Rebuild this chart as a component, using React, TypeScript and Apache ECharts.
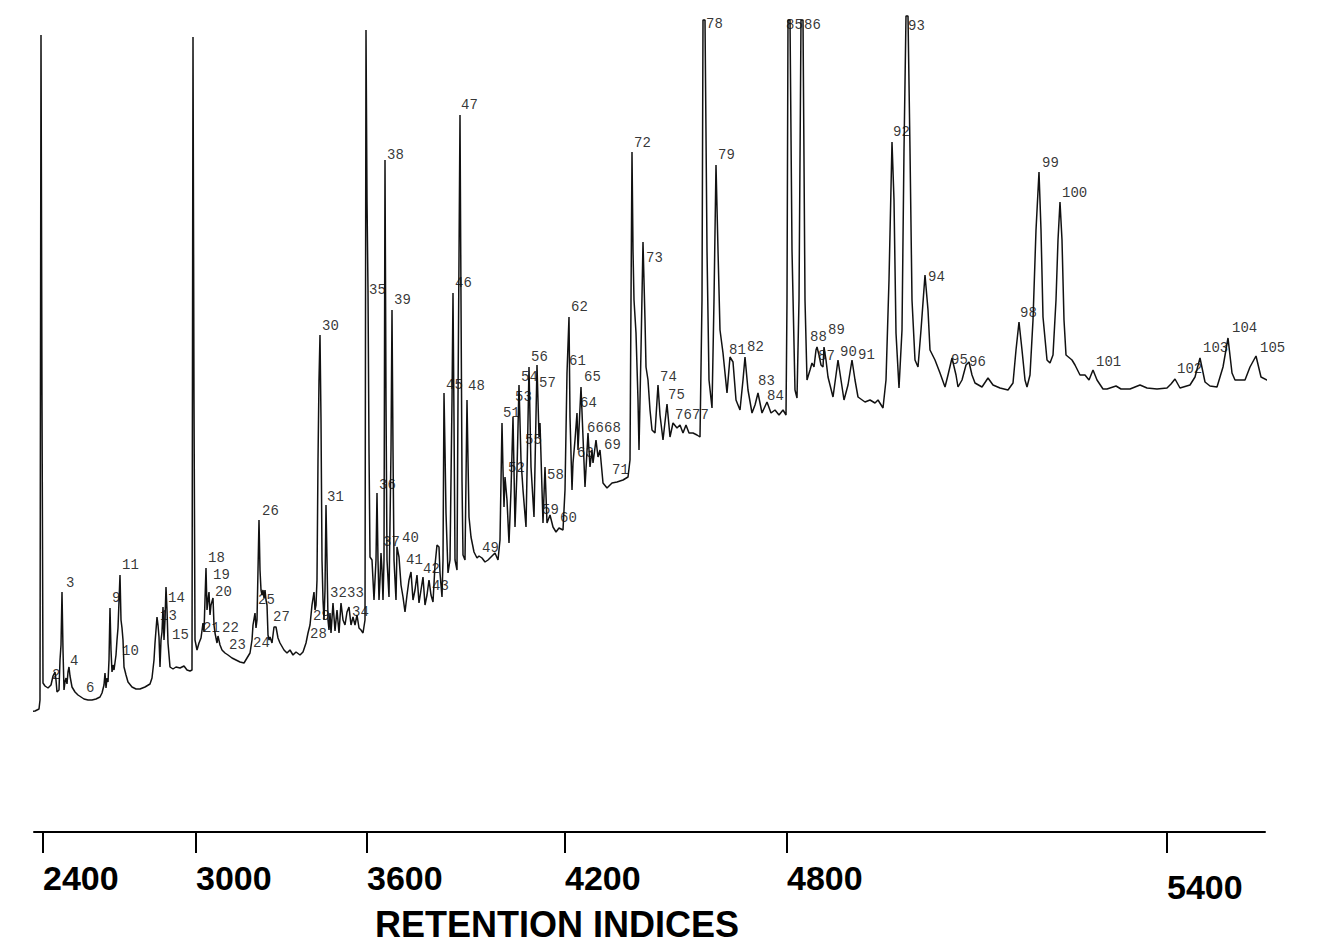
import React, { useEffect, useRef } from "react";
import * as echarts from "echarts";

// Retention index markers (n-alkane positions) on the scan axis
const tickScans = [43, 196, 367, 565, 787, 1167];
const tickIndices = ["2400", "3000", "3600", "4200", "4800", "5400"];

// Chromatogram trace: [scan, detector response]
const trace: [number, number][] = [
  [8, 122], [14, 120], [20, 119], [28, 120], [35, 121], [39, 123],
  [40, 132], [41, 797], [42, 432], [43, 149], [45, 146], [48, 144], [51, 147], [53, 156], [55, 160], [56, 152], [57, 140], [59, 142], [60, 172], [61, 187], [62, 240], [63, 182], [64, 142], [65, 150], [66, 154], [67, 148], [68, 160], [69, 165], [70, 156], [72, 145], [75, 140], [78, 137], [81, 135], [84, 133], [88, 132], [92, 132], [96, 133], [100, 135], [102, 139], [104, 147], [105, 159], [106, 144], [107, 154], [108, 150], [109, 172], [110, 224], [111, 182], [112, 160], [113, 167], [114, 162], [116, 177], [117, 192], [118, 204], [120, 257], [121, 212], [122, 204], [123, 192], [124, 165], [126, 157], [128, 150], [132, 145], [136, 143], [140, 143], [145, 145], [150, 148], [152, 154], [154, 172], [155, 189], [157, 215], [158, 207], [159, 195], [160, 165], [161, 192], [162, 200], [163, 225], [164, 192], [165, 212], [166, 245], [167, 222], [168, 189], [170, 165], [173, 163], [176, 165], [180, 164], [184, 166], [187, 162], [190, 161], [192, 162],
  [193, 795], [194, 432], [195, 192], [197, 182], [199, 189], [201, 194], [203, 209], [204, 200], [206, 264], [207, 222], [208, 232], [209, 240], [210, 217], [211, 227], [213, 234], [214, 207], [215, 199], [217, 189], [218, 196], [220, 187], [222, 182], [225, 179], [228, 177], [232, 174], [236, 172], [240, 170], [244, 169], [247, 174], [250, 179], [252, 192], [253, 207], [255, 219], [256, 204], [257, 212], [259, 312], [260, 262], [261, 242], [262, 237], [263, 242], [264, 234], [265, 242], [266, 232], [267, 227], [268, 197], [269, 192], [270, 195], [272, 189], [274, 205], [276, 205], [278, 194], [280, 189], [284, 182], [287, 179], [290, 182], [293, 177], [296, 180], [300, 177], [303, 180], [306, 189], [308, 199], [310, 207], [312, 227], [314, 240], [315, 222], [316, 227], [317, 252], [318, 372], [319, 452], [320, 497], [321, 412], [322, 272], [323, 232], [324, 212], [325, 242], [326, 327], [327, 272], [328, 212], [329, 202], [330, 219], [331, 199], [333, 229], [335, 201], [337, 222], [339, 199], [341, 229], [343, 212], [345, 207], [347, 220], [349, 225], [351, 207], [353, 215], [355, 207], [357, 217], [359, 204], [361, 202], [363, 199], [365, 212],
  [366, 802], [367, 632], [368, 542], [369, 382], [370, 275], [372, 272], [374, 232], [376, 272], [377, 339], [378, 272], [379, 232], [380, 252], [381, 279], [382, 262], [383, 232], [384, 272], [385, 672], [386, 432], [387, 272], [389, 235], [391, 382], [392, 522], [393, 382], [394, 272], [395, 252], [396, 232], [397, 285], [399, 275], [401, 247], [403, 235], [405, 220], [407, 237], [409, 252], [411, 260], [413, 232], [415, 242], [417, 257], [419, 229], [421, 242], [423, 255], [425, 227], [427, 237], [429, 252], [431, 237], [433, 230], [435, 267], [437, 287], [439, 285], [440, 259], [442, 235], [443, 272], [444, 439], [445, 382], [446, 319], [448, 259], [450, 272], [452, 432], [453, 539], [454, 412], [455, 272], [457, 262], [458, 432], [460, 717], [461, 532], [462, 352], [463, 277], [465, 272], [466, 352], [467, 432], [468, 372], [469, 315], [471, 295], [474, 280], [477, 274], [479, 276], [482, 274], [485, 270], [488, 272], [492, 276], [495, 279], [498, 272], [500, 292], [502, 409], [503, 362], [504, 325], [505, 355], [507, 332], [509, 289], [511, 342], [513, 415], [514, 362], [515, 305], [517, 362], [519, 447], [521, 372], [523, 342], [526, 305], [529, 465], [531, 365], [534, 315], [537, 467], [539, 395], [540, 409], [543, 309], [545, 365], [547, 309], [550, 317], [553, 305], [556, 300], [559, 304], [563, 302], [565, 342], [567, 459], [569, 515], [570, 415], [572, 342], [573, 369], [575, 392], [577, 419], [578, 382], [581, 445], [583, 395], [585, 345], [588, 399], [590, 365], [592, 382], [593, 369], [596, 392], [598, 375], [600, 382], [603, 349], [607, 344], [612, 349], [617, 350], [623, 352], [628, 355],
  [630, 372], [631, 532], [632, 680], [633, 582], [634, 532], [636, 499], [638, 432], [639, 382], [641, 482], [643, 590], [645, 512], [646, 465], [648, 452], [650, 422], [652, 402], [655, 399], [658, 447], [660, 417], [663, 392], [667, 428], [670, 395], [673, 409], [677, 404], [680, 407], [683, 399], [686, 407], [689, 399], [693, 399], [697, 397], [700, 395],
  [702, 532], [703, 812], [705, 812], [707, 582], [709, 452], [712, 424], [714, 532], [716, 667], [718, 582], [720, 502], [723, 479], [727, 439], [730, 475], [733, 470], [736, 432], [740, 422], [743, 452], [745, 475], [748, 442], [752, 419], [755, 427], [758, 439], [762, 419], [767, 430], [771, 419], [775, 422], [779, 417], [783, 422], [786, 417],
  [787, 532], [788, 812], [790, 812], [792, 582], [795, 442], [797, 434], [799, 532], [801, 812], [803, 812], [805, 532], [807, 452], [810, 462], [812, 469], [814, 465], [816, 482], [817, 485], [819, 477], [821, 467], [823, 465], [824, 485], [826, 472], [828, 455], [833, 435], [836, 457], [838, 472], [841, 452], [844, 432], [848, 447], [852, 472], [855, 452], [858, 435], [865, 430], [870, 432], [875, 429], [878, 432], [883, 424], [886, 452], [889, 552], [892, 690], [894, 632], [896, 499], [899, 444], [902, 502], [904, 682], [906, 816], [908, 816], [910, 682], [912, 532], [915, 472], [918, 465], [921, 502], [925, 557], [928, 522], [930, 482], [935, 472], [940, 459], [945, 445], [948, 457], [952, 474], [956, 457], [958, 445], [962, 452], [966, 467], [969, 470], [972, 457], [975, 449], [982, 445], [988, 454], [993, 447], [1000, 444], [1008, 442], [1013, 449], [1016, 482], [1019, 510], [1022, 482], [1025, 452], [1027, 445], [1030, 457], [1033, 512], [1036, 602], [1039, 660], [1041, 602], [1043, 515], [1047, 472], [1050, 469], [1053, 477], [1056, 532], [1058, 592], [1060, 630], [1062, 592], [1064, 512], [1066, 477], [1072, 472], [1075, 467], [1080, 457], [1085, 457], [1089, 452], [1093, 462], [1097, 452], [1103, 443], [1107, 443], [1110, 444], [1116, 446], [1121, 443], [1130, 443], [1140, 447], [1147, 444], [1157, 443], [1167, 444], [1171, 448], [1175, 453], [1180, 444], [1190, 447], [1195, 455], [1200, 474], [1205, 450], [1210, 446], [1217, 445], [1223, 465], [1228, 494], [1232, 459], [1235, 452], [1245, 452], [1250, 465], [1256, 476], [1261, 455], [1267, 452], [1272, 454], [1277, 450], [1283, 449], [1293, 450], [1300, 454], [1307, 452], [1316, 452], [1324, 453],
];

// Peak numbers and where their labels sit (scan, response)
const peakNumbers = [
  "2", "3", "4", "6", "9", "10", "11", "13", "14", "15", "18", "19", "20", "21", "22", "23", "24", "25", "26", "27", "28", "29", "30", "31", "32", "33", "34", "35", "36", "37", "38", "39", "40", "41", "42", "43", "45", "46", "47", "48", "49", "51", "52", "53", "54", "55", "56", "57", "58", "59", "60", "61", "62", "63", "64", "65", "66", "68", "69", "71", "72", "73", "74", "75", "76", "77", "78", "79", "81", "82", "83", "84", "85", "86", "87", "88", "89", "90", "91", "92", "93", "94", "95", "96", "98", "99", "100", "101", "102", "103", "104", "105",
];
const labelScans = [
  52, 66, 70, 86, 112, 122, 122, 160, 168, 172, 208, 213, 215, 203, 222, 229, 253, 258, 262, 273, 310, 313, 322, 327, 330, 347, 352, 369, 379, 383, 387, 394, 402, 406, 423, 432, 446, 455, 461, 468, 482, 503, 508, 515, 521, 525, 531, 539, 547, 542, 560, 569, 571, 577, 580, 584, 587, 604, 604, 612, 634, 646, 660, 668, 675, 692, 706, 718, 729, 747, 758, 767, 786, 804, 818, 810, 828, 840, 858, 893, 908, 928, 951, 969, 1020, 1042, 1062, 1096, 1177, 1203, 1232, 1260,
];
const labelSignals = [
  157, 249, 171, 144, 234, 181, 267, 216, 234, 197, 274, 257, 240, 204, 204, 187, 189, 232, 321, 215, 198, 216, 506, 335, 239, 239, 220, 542, 347, 290, 677, 532, 294, 272, 263, 246, 447, 549, 727, 446, 284, 419, 364, 435, 455, 392, 475, 449, 357, 322, 314, 471, 525, 379, 429, 455, 404, 404, 387, 362, 689, 574, 455, 437, 417, 417, 808, 677, 482, 485, 451, 436, 807, 807, 476, 495, 502, 480, 477, 700, 806, 555, 472, 470, 519, 669, 639, 470, 463, 484, 504, 484,
];

const boldFont = "'Liberation Sans', Arial, Helvetica, sans-serif";

export default function App() {
  const ref = useRef<HTMLDivElement>(null);
  useEffect(() => {
    if (!ref.current) return;
    const chart = echarts.init(ref.current, undefined, { renderer: "svg" });
    const labelData = peakNumbers.map((n, i) => ({ name: n, value: [labelScans[i], labelSignals[i]] }));
    chart.setOption({
      animation: false,
      backgroundColor: "#fff",
      grid: { left: 34, right: 59, top: 16, bottom: 112 },
      title: {
        text: "RETENTION INDICES",
        left: 370,
        top: 901,
        textStyle: { fontFamily: boldFont, fontWeight: "bold", fontSize: 36, color: "#000" },
      },
      xAxis: {
        type: "value",
        min: 34,
        max: 1265,
        axisLine: { show: true, lineStyle: { color: "#000", width: 2 } },
        axisTick: {
          show: true,
          customValues: tickScans,
          length: 21,
          inside: false,
          lineStyle: { color: "#000", width: 2 },
        },
        axisLabel: {
          show: true,
          customValues: tickScans,
          formatter: (v: number) => {
            const i = tickScans.indexOf(v);
            const s = i >= 0 ? tickIndices[i] : "";
            return i === tickScans.length - 1 ? "{low|" + s + "}" : s;
          },
          align: "left",
          margin: 29,
          fontFamily: boldFont,
          fontWeight: "bold",
          fontSize: 34,
          color: "#000",
          rich: {
            low: { fontFamily: boldFont, fontWeight: "bold", fontSize: 34, color: "#000", padding: [9, 0, 0, 0] },
          },
        },
        splitLine: { show: false },
      },
      yAxis: { type: "value", min: 0, max: 816, show: false },
      series: [
        {
          type: "line",
          data: trace,
          symbol: "none",
          showSymbol: false,
          clip: false,
          silent: true,
          lineStyle: { color: "#111", width: 1.5 },
        },
        {
          type: "scatter",
          data: labelData,
          symbolSize: 0,
          clip: false,
          silent: true,
          label: {
            show: true,
            position: "right",
            distance: 0,
            formatter: "{b}",
            fontFamily: "'Liberation Mono', 'DejaVu Sans Mono', monospace",
            fontSize: 14,
            color: "#000",
          },
        },
      ],
    });
    return () => chart.dispose();
  }, []);
  return (
    <div
      ref={ref}
      style={{ position: "fixed", left: 0, top: 0, width: 1324, height: 944, background: "#fff" }}
    />
  );
}
